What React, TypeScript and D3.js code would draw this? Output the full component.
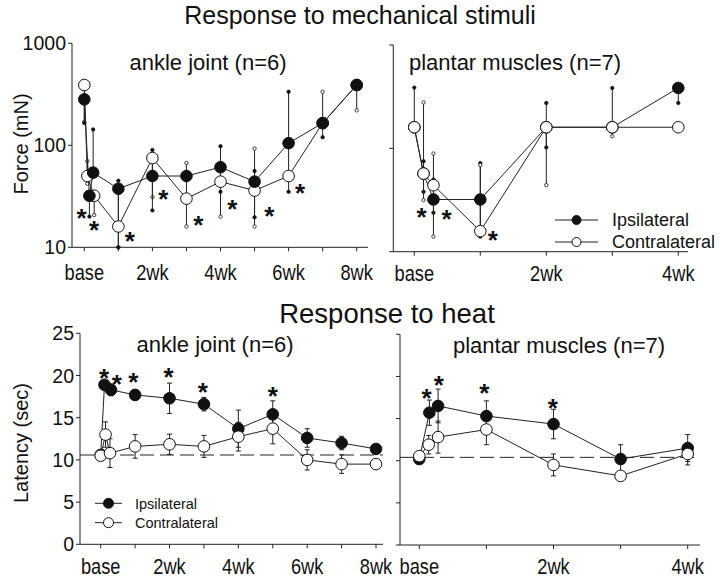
import React from 'react';
import * as d3 from 'd3';

const FONT = '"Liberation Sans", Arial, Helvetica, sans-serif';

// ---------- Response to mechanical stimuli : ankle joint ----------
const mechAnkleIpsiWeeks = [0, 0.15, 0.26, 1, 2, 3, 4, 5, 6, 7, 8];
const mechAnkleIpsi = [282, 32, 54, 37.5, 50, 50, 61, 44, 105, 165, 390];
const mechAnkleIpsiLo = [165, 20, 54, 10, 23, 50, 35, 19.7, 35, 120, 390];
const mechAnkleIpsiHi = [282, 32, 143, 45, 90, 50, 98, 56, 335, 165, 390];
const mechAnkleContraWeeks = [0, 0.09, 0.29, 1, 2, 3, 4, 5, 6, 7, 8];
const mechAnkleContra = [390, 50, 32, 16, 75, 30, 44, 36, 50, 165, 390];
const mechAnkleContraLo = [170, 42, 20.7, 10, 31, 16, 20, 16, 50, 165, 220];
const mechAnkleContraHi = [390, 70, 32, 35, 75, 67, 44, 93, 50, 335, 390];
const mechAnkleStarWeeks = [-0.08, 0.29, 1.34, 2.32, 3.35, 4.35, 5.43, 6.34];
const mechAnkleStarVals = [22.3, 16.8, 13.2, 33.8, 18.8, 27.4, 23.2, 39.3];

// ---------- Response to mechanical stimuli : plantar muscles ----------
const mechPlantarIpsiWeeks = [0, 0.14, 0.29, 1, 2, 3, 4];
const mechPlantarIpsi = [160, 57, 32, 32, 160, 160, 384];
const mechPlantarIpsiLo = [160, 38, 23.8, 14, 102, 160, 275];
const mechPlantarIpsiHi = [387, 75, 50, 72, 275, 384, 384];
const mechPlantarContraWeeks = [0, 0.14, 0.29, 1, 2, 3, 4];
const mechPlantarContra = [160, 57, 44, 15.8, 160, 160, 160];
const mechPlantarContraLo = [160, 31.6, 14, 15.8, 44, 131, 160];
const mechPlantarContraHi = [160, 278, 89, 69, 160, 160, 160];
const mechPlantarStarWeeks = [0.11, 0.49, 1.19];
const mechPlantarStarVals = [24.7, 23.5, 14.8];

// ---------- Response to heat : ankle joint ----------
const heatAnkleIpsiWeeks = [0, 0.11, 0.3, 1, 2, 3, 4, 5, 6, 7, 8];
const heatAnkleIpsi = [10.6, 18.9, 18.3, 17.7, 17.3, 16.6, 13.7, 15.4, 12.6, 12.0, 11.3];
const heatAnkleIpsiErr = [0.5, 0.4, 0.7, 0.6, 1.8, 0.8, 2.2, 1.6, 1.1, 0.8, 0.4];
const heatAnkleContraWeeks = [0, 0.14, 0.27, 1, 2, 3, 4, 5, 6, 7, 8];
const heatAnkleContra = [10.5, 13.0, 10.8, 11.6, 11.85, 11.6, 12.75, 13.7, 10.0, 9.5, 9.5];
const heatAnkleContraErr = [0.4, 1.5, 1.7, 1.4, 1.2, 1.3, 1.7, 1.8, 1.2, 1.1, 0.4];
const heatAnkleStarWeeks = [0.1, 0.47, 0.95, 1.97, 2.97, 5.0];
const heatAnkleStarVals = [20.45, 19.67, 19.94, 20.5, 18.76, 18.28];
const heatAnkleBaseline = 10.58;

// ---------- Response to heat : plantar muscles ----------
const heatPlantarIpsiWeeks = [0, 0.15, 0.28, 1, 2, 3, 4];
const heatPlantarIpsi = [10.2, 15.7, 16.5, 15.3, 14.35, 10.2, 11.5];
const heatPlantarIpsiErr = [0.3, 1.5, 2.0, 1.8, 1.75, 1.7, 1.6];
const heatPlantarContraWeeks = [0, 0.14, 0.28, 1, 2, 3, 4];
const heatPlantarContra = [10.55, 11.9, 12.8, 13.7, 9.5, 8.2, 10.8];
const heatPlantarContraErr = [0.3, 1.1, 1.9, 1.8, 1.3, 0.5, 1.3];
const heatPlantarStarWeeks = [0.11, 0.29, 0.97, 1.99];
const heatPlantarStarVals = [18.2, 19.65, 18.7, 17.0];
const heatPlantarBaseline = 10.4;

const logTicks = [10, 100, 1000];
const logTickLabels = ['10', '100', '1000'];
const linTicks = [0, 5, 10, 15, 20, 25];
const linTickLabels = ['0', '5', '10', '15', '20', '25'];
const weekTicks8 = [0, 1, 2, 3, 4, 5, 6, 7, 8];
const weekLabels8 = ['base', '', '2wk', '', '4wk', '', '6wk', '', '8wk'];
const weekTicks4 = [0, 1, 2, 3, 4];
const weekLabels4 = ['base', '', '2wk', '', '4wk'];
const legendNames = ['Ipsilateral', 'Contralateral'];

type Series = {
  weeks: number[];
  vals: number[];
  lo: number[];
  hi: number[];
  filled: boolean;
};

type PanelProps = {
  xs: d3.ScaleLinear<number, number>;
  ys: (v: number) => number;
  axisX: number;
  axisTop: number;
  axisBottom: number;
  axisRight: number;
  yTicks: number[];
  yLabels: string[] | null;
  xTicks: number[];
  xLabels: string[];
  labelDy: number;
  series: Series[]; // drawn in order (last on top)
  errType: 'range' | 'cap';
  starWeeks: number[];
  starVals: number[];
  dashed?: number;
  subtitle: string;
  subX: number;
  subY: number;
};

function Panel(p: PanelProps) {
  const { xs, ys } = p;
  const line = (s: Series) =>
    d3
      .line<number>()
      .x((_, i) => xs(s.weeks[i]))
      .y((v) => ys(v))(s.vals) || '';
  const R = 5.8;
  return (
    <g fontFamily={FONT}>
      {/* axes */}
      <line x1={p.axisX} x2={p.axisX} y1={p.axisTop} y2={p.axisBottom} stroke="#222" strokeWidth={1} />
      <line x1={p.axisX} x2={p.axisRight} y1={p.axisBottom} y2={p.axisBottom} stroke="#222" strokeWidth={1} />
      {p.yTicks.map((t, i) => (
        <g key={'yt' + i}>
          <line x1={p.axisX - 4} x2={p.axisX} y1={ys(t)} y2={ys(t)} stroke="#222" strokeWidth={1} />
          {p.yLabels && (
            <text x={p.axisX - 6} y={ys(t)} dy="0.36em" textAnchor="end" fontSize={19.5} fill="#111">
              {p.yLabels[i]}
            </text>
          )}
        </g>
      ))}
      {p.xTicks.map((t, i) => (
        <g key={'xt' + i}>
          <line x1={xs(t)} x2={xs(t)} y1={p.axisBottom} y2={p.axisBottom + 4} stroke="#222" strokeWidth={1} />
          {p.xLabels[i] && (
            <text
              transform={`translate(${xs(t)},${p.axisBottom + p.labelDy}) scale(0.83,1)`}
              textAnchor="middle"
              fontSize={22}
              fill="#111"
            >
              {p.xLabels[i]}
            </text>
          )}
        </g>
      ))}
      {/* subtitle */}
      <text x={p.subX} y={p.subY} textAnchor="middle" fontSize={22} fill="#111">
        {p.subtitle}
      </text>
      {/* dashed baseline */}
      {p.dashed !== undefined && (
        <line
          x1={p.axisX}
          x2={p.axisRight}
          y1={ys(p.dashed)}
          y2={ys(p.dashed)}
          stroke="#222"
          strokeWidth={1}
          strokeDasharray="14,6"
        />
      )}
      {/* error bars */}
      {p.series.map((s, si) =>
        s.vals.map((v, i) => {
          const x = xs(s.weeks[i]);
          const y1 = ys(s.lo[i]);
          const y2 = ys(s.hi[i]);
          if (p.errType === 'range') {
            return (
              <g key={'e' + si + '_' + i}>
                <line x1={x} x2={x} y1={y1} y2={y2} stroke="#222" strokeWidth={1} />
                {s.lo[i] !== v && (
                  <circle cx={x} cy={y1} r={1.7} fill={s.filled ? '#111' : '#fff'} stroke="#111" strokeWidth={0.8} />
                )}
                {s.hi[i] !== v && (
                  <circle cx={x} cy={y2} r={1.7} fill={s.filled ? '#111' : '#fff'} stroke="#111" strokeWidth={0.8} />
                )}
              </g>
            );
          }
          return (
            <g key={'e' + si + '_' + i}>
              <line x1={x} x2={x} y1={y1} y2={y2} stroke="#222" strokeWidth={1} />
              <line x1={x - 2.5} x2={x + 2.5} y1={y1} y2={y1} stroke="#222" strokeWidth={1} />
              <line x1={x - 2.5} x2={x + 2.5} y1={y2} y2={y2} stroke="#222" strokeWidth={1} />
            </g>
          );
        })
      )}
      {/* lines */}
      {p.series.map((s, si) => (
        <path key={'l' + si} d={line(s)} fill="none" stroke="#222" strokeWidth={1} />
      ))}
      {/* markers */}
      {p.series.map((s, si) =>
        s.vals.map((v, i) => (
          <circle
            key={'m' + si + '_' + i}
            cx={xs(s.weeks[i])}
            cy={ys(v)}
            r={R}
            fill={s.filled ? '#111' : '#fff'}
            stroke="#111"
            strokeWidth={1}
          />
        ))
      )}
      {/* asterisks */}
      {p.starWeeks.map((w, i) => (
        <text
          key={'s' + i}
          x={xs(w)}
          y={ys(p.starVals[i]) + 15}
          textAnchor="middle"
          fontSize={26}
          fontWeight="bold"
          fill="#111"
        >
          *
        </text>
      ))}
    </g>
  );
}

function Legend({ x1, x2, y1, y2, r, tx, fs, dy }: { x1: number; x2: number; y1: number; y2: number; r: number; tx: number; fs: number; dy: number }) {
  const mx = (x1 + x2) / 2;
  return (
    <g fontFamily={FONT}>
      {[y1, y2].map((y, i) => (
        <g key={i}>
          <line x1={x1} x2={x2} y1={y} y2={y} stroke="#222" strokeWidth={1} />
          <circle cx={mx} cy={y} r={r} fill={i === 0 ? '#111' : '#fff'} stroke="#111" strokeWidth={1} />
          <text x={tx} y={y + dy} fontSize={fs} fill="#111">
            {legendNames[i]}
          </text>
        </g>
      ))}
    </g>
  );
}

export default function App() {
  // scales
  const xTL = d3.scaleLinear().domain([0, 8]).range([84.3, 356.7]);
  const yTL = d3.scaleLog().domain([10, 1000]).range([247.3, 43.3]);
  const xTR = d3.scaleLinear().domain([0, 4]).range([414.3, 678.3]);
  const yTR = d3.scaleLog().domain([10, 1000]).range([251.7, 45]);
  const xBL = d3.scaleLinear().domain([0, 8]).range([100.7, 376]);
  const yBL = d3.scaleLinear().domain([0, 25]).range([544.3, 333.3]);
  const xBR = d3.scaleLinear().domain([0, 4]).range([419.3, 687.7]);
  const yBR = d3.scaleLinear().domain([0, 25]).range([545, 334.3]);

  const mk = (weeks: number[], vals: number[], lo: number[], hi: number[], filled: boolean): Series => ({
    weeks,
    vals,
    lo,
    hi,
    filled,
  });
  const mkErr = (weeks: number[], vals: number[], err: number[], filled: boolean): Series => ({
    weeks,
    vals,
    lo: vals.map((v, i) => v - err[i]),
    hi: vals.map((v, i) => v + err[i]),
    filled,
  });

  return (
    <svg
      width={720}
      height={580}
      style={{ position: 'absolute', left: 0, top: 0, background: '#fff' }}
      fontFamily={FONT}
    >
      <rect x={0} y={0} width={720} height={580} fill="#fff" />
      <text x={360} y={24} textAnchor="middle" fontSize={25} fill="#111">
        Response to mechanical stimuli
      </text>
      <text x={387} y={323} textAnchor="middle" fontSize={27.5} fill="#111">
        Response to heat
      </text>
      <text transform="translate(28,144) rotate(-90)" textAnchor="middle" fontSize={20} fill="#111">
        Force (mN)
      </text>
      <text transform="translate(28,443) rotate(-90)" textAnchor="middle" fontSize={20} fill="#111">
        Latency (sec)
      </text>

      <Panel
        xs={xTL}
        ys={yTL}
        axisX={72}
        axisTop={43.3}
        axisBottom={247.3}
        axisRight={368}
        yTicks={logTicks}
        yLabels={logTickLabels}
        xTicks={weekTicks8}
        xLabels={weekLabels8}
        labelDy={33}
        series={[
          mk(mechAnkleContraWeeks, mechAnkleContra, mechAnkleContraLo, mechAnkleContraHi, false),
          mk(mechAnkleIpsiWeeks, mechAnkleIpsi, mechAnkleIpsiLo, mechAnkleIpsiHi, true),
        ]}
        errType="range"
        starWeeks={mechAnkleStarWeeks}
        starVals={mechAnkleStarVals}
        subtitle="ankle joint (n=6)"
        subX={208}
        subY={70}
      />
      <Panel
        xs={xTR}
        ys={yTR}
        axisX={393.3}
        axisTop={45}
        axisBottom={251.7}
        axisRight={688}
        yTicks={logTicks}
        yLabels={null}
        xTicks={weekTicks4}
        xLabels={weekLabels4}
        labelDy={29}
        series={[
          mk(mechPlantarIpsiWeeks, mechPlantarIpsi, mechPlantarIpsiLo, mechPlantarIpsiHi, true),
          mk(mechPlantarContraWeeks, mechPlantarContra, mechPlantarContraLo, mechPlantarContraHi, false),
        ]}
        errType="range"
        starWeeks={mechPlantarStarWeeks}
        starVals={mechPlantarStarVals}
        subtitle="plantar muscles (n=7)"
        subX={515}
        subY={70}
      />
      <Panel
        xs={xBL}
        ys={yBL}
        axisX={80}
        axisTop={333.3}
        axisBottom={544.3}
        axisRight={383}
        yTicks={linTicks}
        yLabels={linTickLabels}
        xTicks={weekTicks8}
        xLabels={weekLabels8}
        labelDy={30}
        series={[
          mkErr(heatAnkleIpsiWeeks, heatAnkleIpsi, heatAnkleIpsiErr, true),
          mkErr(heatAnkleContraWeeks, heatAnkleContra, heatAnkleContraErr, false),
        ]}
        errType="cap"
        starWeeks={heatAnkleStarWeeks}
        starVals={heatAnkleStarVals}
        dashed={heatAnkleBaseline}
        subtitle="ankle joint (n=6)"
        subX={215}
        subY={352}
      />
      <Panel
        xs={xBR}
        ys={yBR}
        axisX={400}
        axisTop={334.3}
        axisBottom={545}
        axisRight={700}
        yTicks={linTicks}
        yLabels={null}
        xTicks={weekTicks4}
        xLabels={weekLabels4}
        labelDy={29.3}
        series={[
          mkErr(heatPlantarIpsiWeeks, heatPlantarIpsi, heatPlantarIpsiErr, true),
          mkErr(heatPlantarContraWeeks, heatPlantarContra, heatPlantarContraErr, false),
        ]}
        errType="cap"
        starWeeks={heatPlantarStarWeeks}
        starVals={heatPlantarStarVals}
        dashed={heatPlantarBaseline}
        subtitle="plantar muscles (n=7)"
        subX={559}
        subY={353}
      />
      <Legend x1={555} x2={598} y1={220} y2={242} r={4.5} tx={612} fs={18} dy={6} />
      <Legend x1={95} x2={122} y1={503.3} y2={522.7} r={5} tx={135} fs={14.5} dy={5.3} />
    </svg>
  );
}
